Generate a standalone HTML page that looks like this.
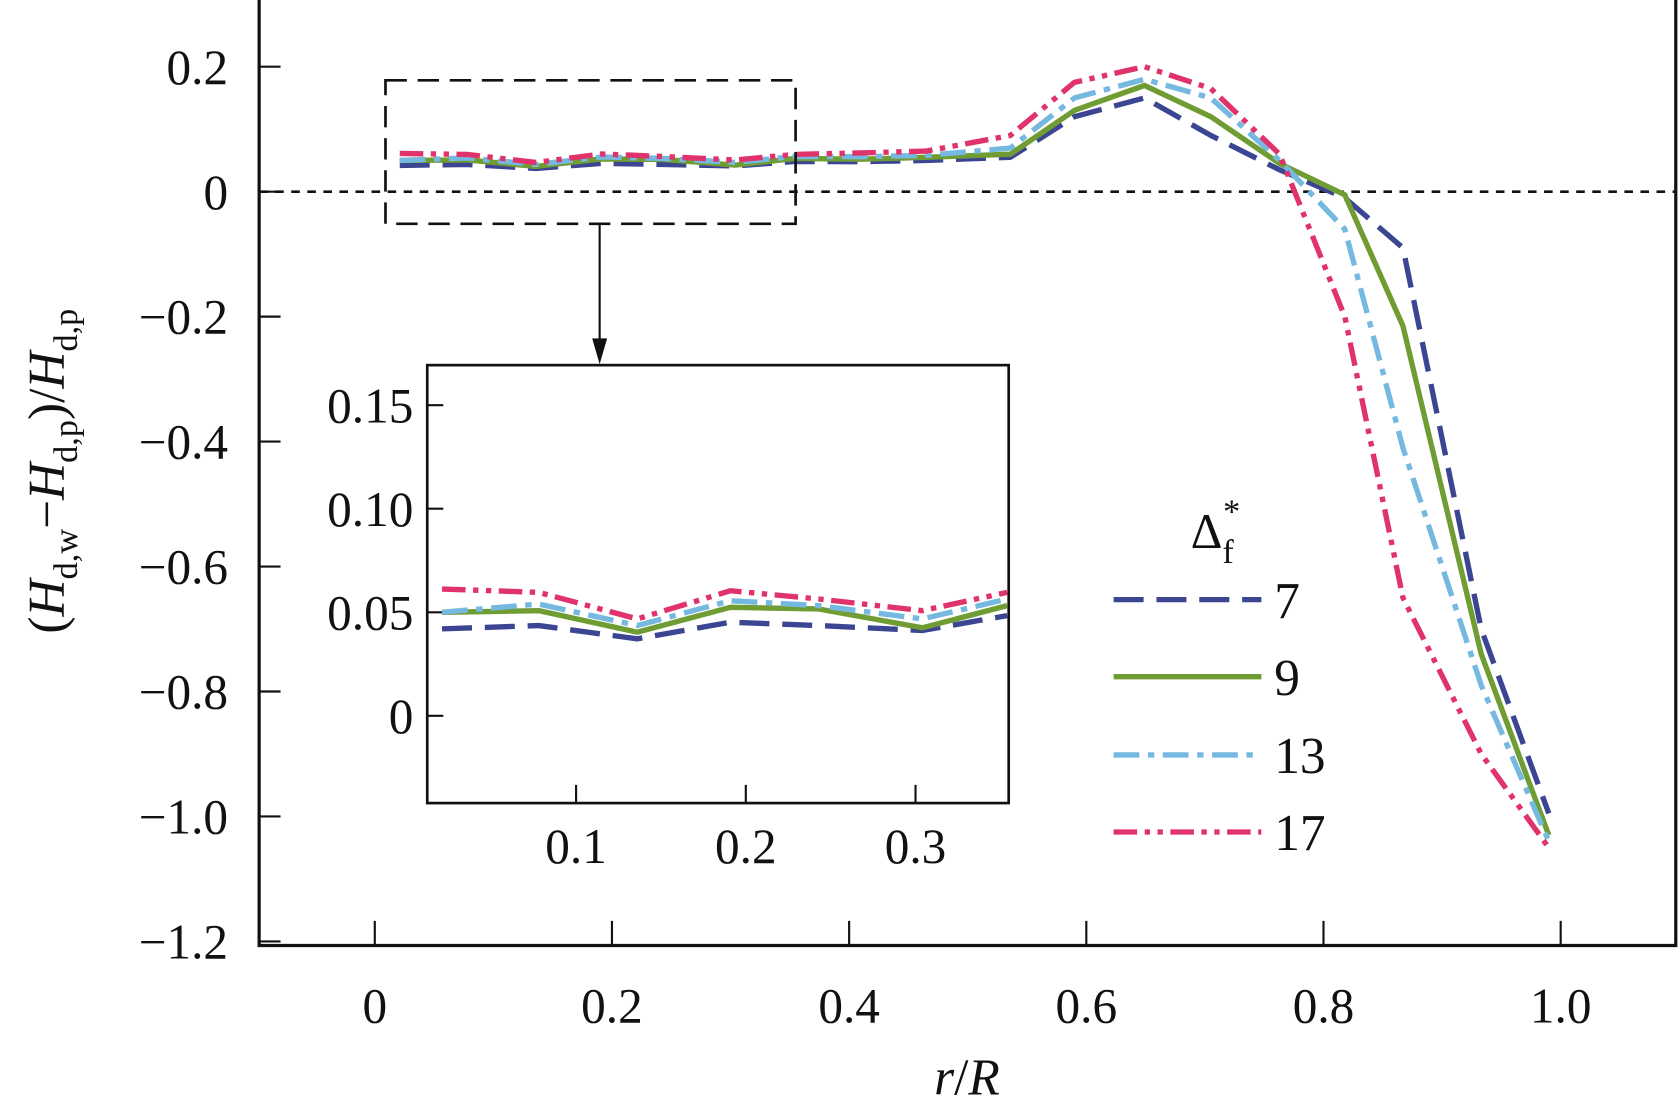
<!DOCTYPE html>
<html><head><meta charset="utf-8"><style>
html,body{margin:0;padding:0;background:#fff;}
svg{display:block;}
text{font-family:"Liberation Serif",serif;fill:#111;}
</style></head><body>
<svg id="chart" width="1679" height="1115" viewBox="0 0 1568 1041.3" preserveAspectRatio="none" xmlns="http://www.w3.org/2000/svg">
<g id="main"></g>
<g id="inset"></g>
</svg>
<script>
const rVals = [0.021,0.078,0.136,0.191,0.243,0.304,0.354,0.41,0.465,0.536,0.59,0.649,0.705,0.763,0.818,0.867,0.933,0.99];
const s7  = [0.042,0.0436,0.0372,0.0452,0.0436,0.0412,0.0484,0.048,0.05,0.055,0.12,0.15,0.09,0.035,-0.01,-0.09,-0.70,-0.995];
const s9  = [0.05,0.0508,0.0404,0.0524,0.0516,0.0425,0.0532,0.052,0.055,0.06,0.13,0.17,0.12,0.045,-0.005,-0.215,-0.74,-1.03];
const s13 = [0.05,0.054,0.0436,0.0556,0.0532,0.0468,0.0564,0.056,0.058,0.07,0.15,0.18,0.15,0.05,-0.06,-0.41,-0.79,-1.04];
const s17 = [0.0612,0.0596,0.0468,0.0604,0.0564,0.0508,0.0596,0.062,0.065,0.09,0.175,0.2,0.165,0.06,-0.2,-0.65,-0.9,-1.05];
const seriesNames = ["7","9","13","17"];
const xTicks = [0,0.2,0.4,0.6,0.8,1.0];
const xTickLabels = ["0","0.2","0.4","0.6","0.8","1.0"];
const yTicks = [0.2,0,-0.2,-0.4,-0.6,-0.8,-1.0,-1.2];
const yTickLabels = ["0.2","0","\u22120.2","\u22120.4","\u22120.6","\u22120.8","\u22121.0","\u22121.2"];
const ixTicks = [0.1,0.2,0.3];
const ixTickLabels = ["0.1","0.2","0.3"];
const iyTicks = [0.15,0.10,0.05,0];
const iyTickLabels = ["0.15","0.10","0.05","0"];

const NS="http://www.w3.org/2000/svg";
function mk(tag,attrs,parent){const e=document.createElementNS(NS,tag);for(const k in attrs)e.setAttribute(k,attrs[k]);parent.appendChild(e);return e;}
const X=r=>350+r*1107.5;
const Y=v=>179-v*583.5;
const IX=r=>538+(r-0.1)*1585;
const IY=v=>668.5-v*1934;
const colors=["#3b4592","#6f9c33","#75b8e0","#e0336b"];
const dashes=["28 12","", "24 8 6 8","22 7 5 7 5 7"];
const allS=[s7,s9,s13,s17];
const main=document.getElementById('main');
const inset=document.getElementById('inset');

// main axes
let el;
el=mk('path',{d:'M242,0 V883 H1565 V0',fill:'none',stroke:'#111','stroke-width':3},main);


el=mk('line',{x1:242,x2:1565,y1:Y(0),y2:Y(0),stroke:'#111','stroke-width':2.5,'stroke-dasharray':'8 7'},main);


xTicks.forEach((t,i)=>{
  el=mk('line',{x1:X(t),x2:X(t),y1:860,y2:883,stroke:'#111','stroke-width':2},main);
  
  
  el=mk('text',{x:X(t),y:955,'font-size':46,'text-anchor':'middle'},main);el.textContent=xTickLabels[i];
  
  
});
yTicks.forEach((t,i)=>{
  el=mk('line',{x1:242,x2:262,y1:Y(t),y2:Y(t),stroke:'#111','stroke-width':2},main);
  
  
  el=mk('text',{x:213,y:Y(t)+16,'font-size':46,'text-anchor':'end'},main);el.textContent=yTickLabels[i];
  
  
});
el=mk('text',{x:903,y:1022,'font-size':48,'text-anchor':'middle','font-style':'italic'},main);
el.innerHTML='r<tspan font-style="normal">/</tspan>R';


el=mk('text',{x:0,y:0,'font-size':48,'text-anchor':'middle',transform:'translate(60,440) rotate(-90)'},main);
el.innerHTML='(<tspan font-style="italic">H</tspan><tspan font-size="32" dy="12">d,w</tspan><tspan dy="-12">\u2212</tspan><tspan font-style="italic">H</tspan><tspan font-size="32" dy="12">d,p</tspan><tspan dy="-12">)/</tspan><tspan font-style="italic">H</tspan><tspan font-size="32" dy="12">d,p</tspan>';



allS.forEach((s,k)=>{
  const d=s.map((v,i)=>(i?'L':'M')+X(rVals[i]).toFixed(1)+','+Y(v).toFixed(1)).join(' ');
  const a={d:d,fill:'none',stroke:colors[k],'stroke-width':5,'stroke-linejoin':'round'};
  if(dashes[k])a['stroke-dasharray']=dashes[k];
  el=mk('path',a,main);
  
  
});

// zoom box and arrow
el=mk('rect',{x:360,y:75,width:383,height:134,fill:'none',stroke:'#111','stroke-width':2.5,'stroke-dasharray':'20 10'},main);


el=mk('line',{x1:560,x2:560,y1:209,y2:318,stroke:'#111','stroke-width':2},main);


el=mk('path',{d:'M553,316 L567,316 L560,340 Z',fill:'#111'},main);



// legend
el=mk('text',{x:1112,y:512,'font-size':46},main);
el.innerHTML='\u0394<tspan font-size="32" dy="14">f</tspan><tspan font-size="32" dx="-10" dy="-38">*</tspan>';


const legY=[560,632,705,777];
seriesNames.forEach((n,k)=>{
  const a={x1:1040,x2:1178,y1:legY[k],y2:legY[k],stroke:colors[k],'stroke-width':5};
  if(dashes[k])a['stroke-dasharray']=dashes[k];
  el=mk('line',a,main);
  
  
  el=mk('text',{x:1190,y:legY[k]+17,'font-size':48},main);el.textContent=n;
  
  
});

// inset
el=mk('rect',{x:399,y:341,width:543,height:409,fill:'#fff',stroke:'#111','stroke-width':2.5},inset);


ixTicks.forEach((t,i)=>{
  el=mk('line',{x1:IX(t),x2:IX(t),y1:733,y2:750,stroke:'#111','stroke-width':2},inset);
  
  
  el=mk('text',{x:IX(t),y:806,'font-size':46,'text-anchor':'middle'},inset);el.textContent=ixTickLabels[i];
  
  
});
iyTicks.forEach((t,i)=>{
  el=mk('line',{x1:399,x2:414,y1:IY(t),y2:IY(t),stroke:'#111','stroke-width':2},inset);
  
  
  el=mk('text',{x:386,y:IY(t)+16,'font-size':46,'text-anchor':'end'},inset);el.textContent=iyTickLabels[i];
  
  
});
allS.forEach((s,k)=>{
  const pts=[];
  for(let i=0;i<7;i++)pts.push((i?'L':'M')+IX(rVals[i]).toFixed(1)+','+IY(s[i]).toFixed(1));
  const a={d:pts.join(' '),fill:'none',stroke:colors[k],'stroke-width':5,'stroke-linejoin':'round'};
  if(dashes[k])a['stroke-dasharray']=dashes[k];
  el=mk('path',a,inset);
  
  
});
</script>
</body></html>
